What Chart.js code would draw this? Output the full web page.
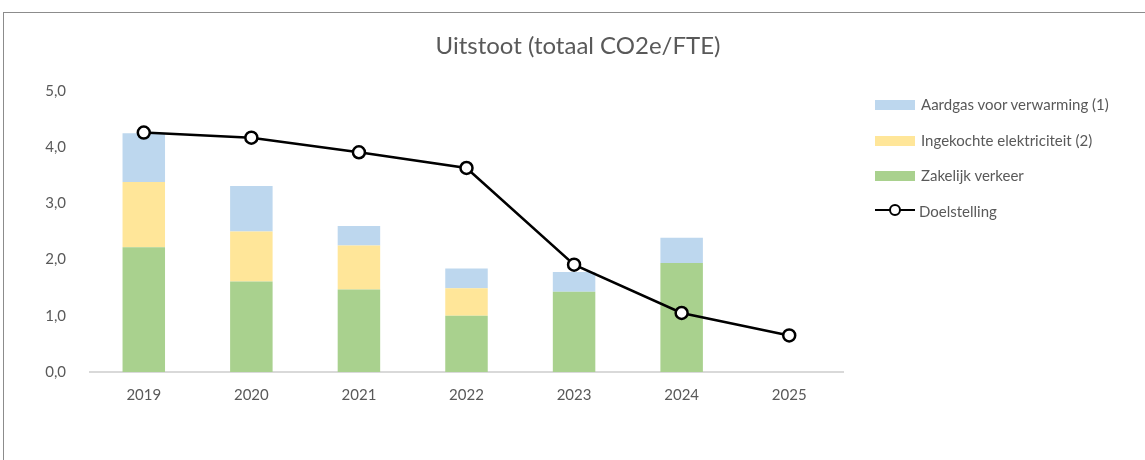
<!DOCTYPE html>
<html>
<head>
<meta charset="utf-8">
<script src="https://cdn.jsdelivr.net/npm/chart.js@4.4.1/dist/chart.umd.min.js"></script>
<style>
  html, body { margin: 0; padding: 0; background: #fff; }
  #wrap { position: relative; width: 1145px; height: 460px; overflow: hidden; }
  #frame { position: absolute; left: 3px; top: 12px; width: 1200px; height: 500px; border: 1px solid #8c8c8c; box-sizing: border-box; }
  #chartBox { position: absolute; left: 0; top: 0; width: 1145px; height: 460px; }
  #title { position: absolute; left: 0; width: 1156px; top: 30px; text-align: center; font-family: Lato, "Open Sans", sans-serif; font-size: 24px; color: #595959; }
  #legend { position: absolute; left: 875px; top: 95px; font-family: Lato, "Open Sans", sans-serif; font-size: 15px; color: #595959; }
  .item { height: 35.5px; display: flex; align-items: flex-start; }
  .swatch { width: 40px; height: 10px; margin-top: 5px; margin-right: 6px; }
  .lineSwatch { width: 40px; height: 20px; margin-right: 4px; position: relative; margin-top: -2px; }
  .lineSwatch .ln { position: absolute; left: 0; right: 0; top: 9px; height: 2.5px; background: #000; }
  .lineSwatch .dot { position: absolute; left: 14px; top: 4px; width: 8px; height: 8px; border: 2.5px solid #000; border-radius: 50%; background: #fff; }
</style>
</head>
<body>
<div id="wrap">
  <div id="frame"></div>
  <div id="chartBox"><canvas id="co2Chart" width="1145" height="460"></canvas></div>
  <div id="title">Uitstoot (totaal CO2e/FTE)</div>
  <div id="legend"></div>
</div>
<script>
  const years = ["2019", "2020", "2021", "2022", "2023", "2024", "2025"];
  const zakelijkVerkeer = [2.22, 1.61, 1.47, 1.00, 1.43, 1.94, null];
  const elektriciteit = [1.16, 0.89, 0.78, 0.49, 0, 0, null];
  const aardgas = [0.87, 0.81, 0.35, 0.35, 0.35, 0.45, null];
  const doelstelling = [4.26, 4.17, 3.91, 3.63, 1.91, 1.05, 0.65];
  const yTicks = [0, 1, 2, 3, 4, 5];

  const font = "Lato, 'Open Sans', sans-serif";

  const chart = new Chart(document.getElementById('co2Chart'), {
    type: 'bar',
    data: {
      labels: years,
      datasets: [
        {
          type: 'line',
          label: "Doelstelling",
          data: doelstelling,
          borderColor: "#000000",
          borderWidth: 2.5,
          pointRadius: 6,
          pointBorderWidth: 2.5,
          pointBackgroundColor: "#ffffff",
          pointBorderColor: "#000000",
          tension: 0,
          order: 0
        },
        { label: "Zakelijk verkeer", data: zakelijkVerkeer, backgroundColor: "#A9D18E", stack: 's', order: 1 },
        { label: "Ingekochte elektriciteit (2)", data: elektriciteit, backgroundColor: "#FFE699", stack: 's', order: 1 },
        { label: "Aardgas voor verwarming (1)", data: aardgas, backgroundColor: "#BDD7EE", stack: 's', order: 1 }
      ]
    },
    options: {
      responsive: false,
      animation: false,
      layout: { padding: { left: 0, top: 91, right: 302, bottom: 50 } },
      datasets: { bar: { categoryPercentage: 1, barPercentage: 0.395 } },
      plugins: {
        legend: { display: false },
        tooltip: { enabled: false }
      },
      scales: {
        x: {
          stacked: true,
          grid: { display: false },
          border: { display: true, color: "#d9d9d9", width: 2 },
          ticks: { color: "#595959", font: { family: font, size: 15 }, padding: 6 }
        },
        y: {
          stacked: true,
          min: 0,
          max: 5,
          afterBuildTicks: function(axis) {
            axis.ticks = yTicks.map(v => ({ value: v }));
          },
          afterFit: function(axis) { axis.width = 90; },
          grid: { display: false },
          border: { display: false },
          ticks: {
            color: "#595959",
            font: { family: font, size: 15 },
            padding: 16,
            callback: function(val) { return val.toFixed(1).replace('.', ','); }
          }
        }
      }
    }
  });

  // legend: bars top-down as stacked, then the target line
  const legend = document.getElementById('legend');
  const ds = chart.data.datasets;
  [3, 2, 1].forEach(i => {
    const row = document.createElement('div');
    row.className = 'item';
    row.innerHTML = '<div class="swatch" style="background:' + ds[i].backgroundColor + '"></div><span>' + ds[i].label + '</span>';
    legend.appendChild(row);
  });
  const lineRow = document.createElement('div');
  lineRow.className = 'item';
  lineRow.innerHTML = '<div class="lineSwatch"><div class="ln"></div><div class="dot"></div></div><span>' + ds[0].label + '</span>';
  legend.appendChild(lineRow);
</script>
</body>
</html>
